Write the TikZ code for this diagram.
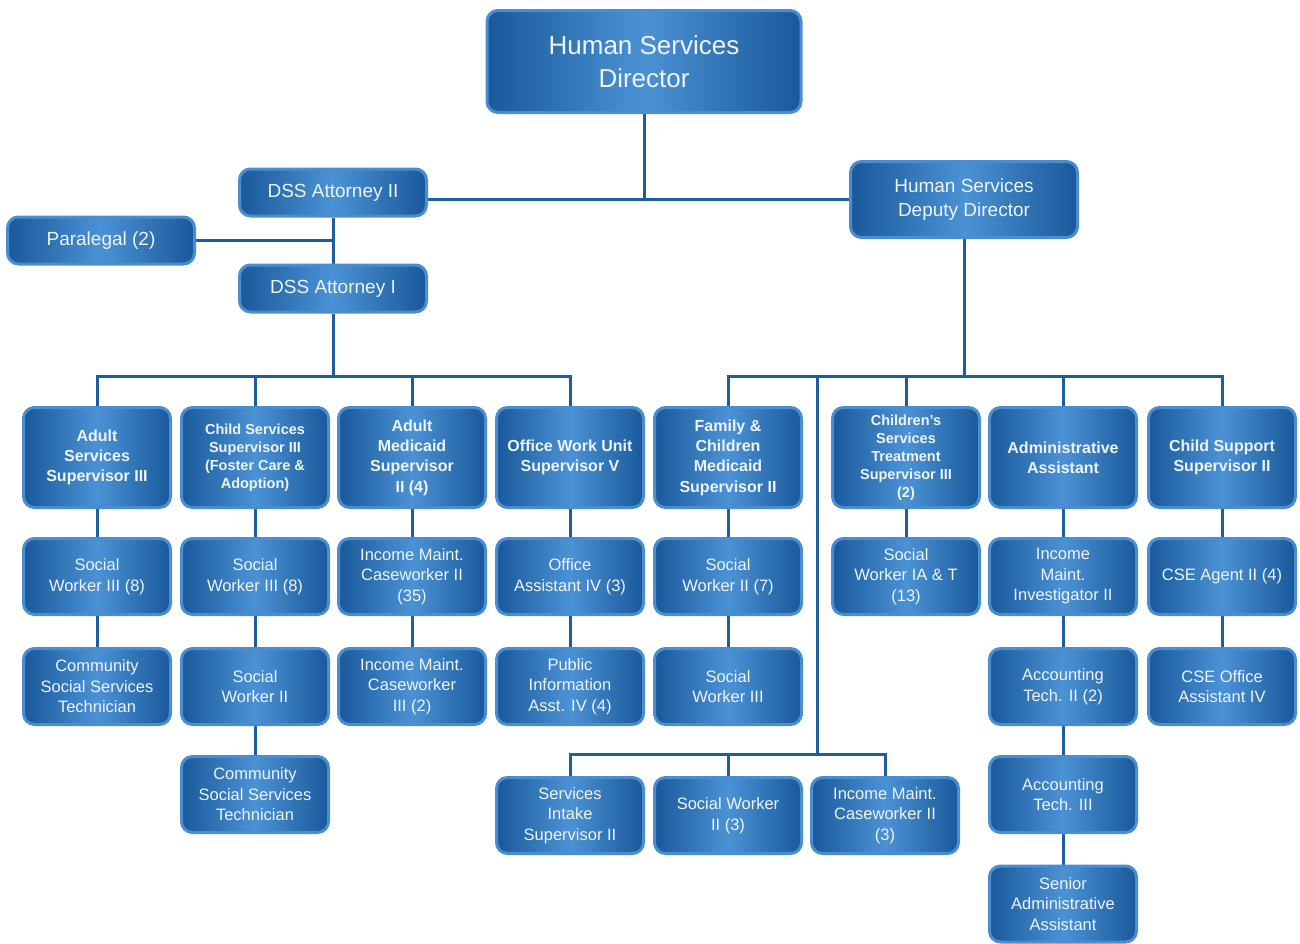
\documentclass[tikz,border=0pt]{standalone}
\usepackage{fontspec}
\setmainfont{Liberation Sans}
\definecolor{edgeblue}{HTML}{4A8DD0}
\definecolor{darkblue}{HTML}{19599B}
\definecolor{lightblue}{HTML}{4B92D4}
\definecolor{linkblue}{HTML}{1E5E9E}
\definecolor{boxtext}{HTML}{EEF4FA}
\pgfdeclarelayer{back}
\pgfsetlayers{back,main}
\tikzset{
  box/.style={draw=edgeblue, line width=3pt, rounded corners=11pt,
    left color=darkblue, right color=darkblue, middle color=lightblue,
    text=boxtext, align=center, inner sep=0pt, yshift=-1.5pt},
  topbox/.style={box, minimum width=314pt, minimum height=102pt,
    font=\fontsize{26}{33}\selectfont},
  midbox/.style={box, minimum width=187pt, minimum height=47pt,
    font=\fontsize{19}{24}\selectfont},
  supbox/.style={box, minimum width=147pt, minimum height=100pt,
    font=\bfseries\fontsize{16}{20.3}\selectfont},
  supsmall/.style={supbox, font=\bfseries\fontsize{14.5}{18}\selectfont},
  staffbox/.style={box, minimum width=147pt, minimum height=76pt,
    font=\fontsize{16.5}{20.5}\selectfont},
  link/.style={draw=linkblue, line width=3pt}
}
\begin{document}
\begin{tikzpicture}[x=1pt,y=-1pt]
\useasboundingbox (0,0) rectangle (1300,943);

% top of the chart
\node[topbox] (dir) at (644,60) {Human Services\\Director};
\node[midbox] (att2) at (333,191) {DSS Attorney II};
\node[midbox] (para) at (101,239) {Paralegal (2)};
\node[midbox] (att1) at (333,287) {DSS Attorney I};
\node[midbox, minimum width=227pt, minimum height=76pt] (dep) at (964,198) {Human Services\\Deputy Director};

% supervisors
\node[supbox] (s1) at (97,456) {Adult\\Services\\Supervisor III};
\node[supsmall] (s2) at (255,456) {Child Services\\Supervisor III\\(Foster Care \&\\Adoption)};
\node[supbox] (s3) at (412,456) {Adult\\Medicaid\\Supervisor\\II (4)};
\node[supbox] (s4) at (570,456) {Office Work Unit\\Supervisor V};
\node[supbox] (s5) at (728,456) {Family \&\\Children\\Medicaid\\Supervisor II};
\node[supsmall] (s6) at (906,456) {Children’s\\Services\\Treatment\\Supervisor III\\(2)};
\node[supbox] (s7) at (1063,456) {Administrative\\Assistant};
\node[supbox] (s8) at (1222,456) {Child Support\\Supervisor II};

% second row
\node[staffbox] (w1) at (97,575) {Social\\Worker III (8)};
\node[staffbox] (w2) at (255,575) {Social\\Worker III (8)};
\node[staffbox] (w3) at (412,575) {Income Maint.\\Caseworker II\\(35)};
\node[staffbox] (w4) at (570,575) {Office\\Assistant IV (3)};
\node[staffbox] (w5) at (728,575) {Social\\Worker II (7)};
\node[staffbox] (w6) at (906,575) {Social\\Worker IA \& T\\(13)};
\node[staffbox] (w7) at (1063,575) {Income\\Maint.\\Investigator II};
\node[staffbox] (w8) at (1222,575) {CSE Agent II (4)};

% third row
\node[staffbox] (t1) at (97,685) {Community\\Social Services\\Technician};
\node[staffbox] (t2) at (255,685) {Social\\Worker II};
\node[staffbox] (t3) at (412,685) {Income Maint.\\Caseworker\\III (2)};
\node[staffbox] (t4) at (570,685) {Public\\Information\\Asst. IV (4)};
\node[staffbox] (t5) at (728,685) {Social\\Worker III};
\node[staffbox] (t7) at (1063,685) {Accounting\\Tech. II (2)};
\node[staffbox] (t8) at (1222,685) {CSE Office\\Assistant IV};

% lower rows
\node[staffbox] (f2) at (255,793) {Community\\Social Services\\Technician};
\node[staffbox] (f7) at (1063,793) {Accounting\\Tech. III};
\node[staffbox] (g7) at (1063,902.5) {Senior\\Administrative\\Assistant};

% intake group
\node[staffbox] (b1) at (570,814) {Services\\Intake\\Supervisor II};
\node[staffbox] (b2) at (728,814) {Social Worker\\II (3)};
\node[staffbox] (b3) at (885,814) {Income Maint.\\Caseworker II\\(3)};

% junctions
\coordinate (lbus) at (333,376);
\coordinate (rbus) at (964,376);
\coordinate (br) at (817,376);
\coordinate (bb) at (817,754);

\begin{pgfonlayer}{back}
\fill[white] (0,0) rectangle (1300,943);
\draw[link] (dir.south) -- (dir.south |- dep.west);
\draw[link] (att2.east |- dep.west) -- (dep.west);
\draw[link] (att2.south) -- (att1.north);
\draw[link] (para.east) -- (para.east -| att2.south);
% left branch
\draw[link] (att1.south) -- (lbus);
\draw[link] (s1.north) |- (lbus) -| (s4.north);
\draw[link] (s2.north) -- (s2.north |- lbus);
\draw[link] (s3.north) -- (s3.north |- lbus);
% right branch
\draw[link] (dep.south) -- (rbus);
\draw[link] (s5.north) |- (rbus) -| (s8.north);
\draw[link] (s6.north) -- (s6.north |- rbus);
\draw[link] (s7.north) -- (s7.north |- rbus);
\draw[link] (br) -- (bb);
\draw[link] (b1.north) |- (bb) -| (b3.north);
\draw[link] (b2.north) -- (b2.north |- bb);
% columns
\draw[link] (s1.south) -- (w1.north) (w1.south) -- (t1.north);
\draw[link] (s2.south) -- (w2.north) (w2.south) -- (t2.north) (t2.south) -- (f2.north);
\draw[link] (s3.south) -- (w3.north) (w3.south) -- (t3.north);
\draw[link] (s4.south) -- (w4.north) (w4.south) -- (t4.north);
\draw[link] (s5.south) -- (w5.north) (w5.south) -- (t5.north);
\draw[link] (s6.south) -- (w6.north);
\draw[link] (s7.south) -- (w7.north) (w7.south) -- (t7.north) (t7.south) -- (f7.north) (f7.south) -- (g7.north);
\draw[link] (s8.south) -- (w8.north) (w8.south) -- (t8.north);
\end{pgfonlayer}
\end{tikzpicture}
\end{document}
